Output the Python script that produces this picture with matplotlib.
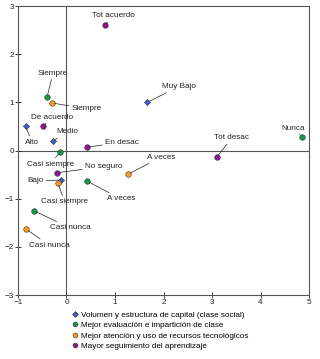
import numpy as np
import matplotlib.pyplot as plt
from matplotlib.lines import Line2D

plt.rcParams['font.family'] = ['Liberation Sans', 'DejaVu Sans']

# series names for the legend
series = ['Volumen y estructura de capital (clase social)',
          'Mejor evaluación e impartición de clase',
          'Mejor atención y uso de recursos tecnológicos',
          'Mayor seguimiento del aprendizaje']

# category points, one list per series
vol_lab = ['Alto', 'Medio', 'Muy Bajo', 'Bajo']
vol_x = [-0.84, -0.28, 1.66, -0.11]
vol_y = [0.51, 0.20, 1.00, -0.61]

eva_lab = ['Siempre', 'Casi siempre', 'A veces', 'Casi nunca', 'Nunca']
eva_x = [-0.40, -0.13, 0.42, -0.67, 4.86]
eva_y = [1.11, -0.03, -0.63, -1.25, 0.28]

ate_lab = ['Siempre', 'Casi siempre', 'A veces', 'Casi nunca']
ate_x = [-0.30, -0.18, 1.27, -0.83]
ate_y = [0.99, -0.67, -0.49, -1.63]

seg_lab = ['Tot acuerdo', 'De acuerdo', 'En desac', 'Tot desac', 'No seguro']
seg_x = [0.79, -0.48, 0.42, 3.10, -0.20]
seg_y = [2.61, 0.51, 0.07, -0.13, -0.46]

# label offsets in pixels (dx, dy)
vol_off = [(6, -16), (15, 9), (32, 16), (-26, -1)]
eva_off = [(6, 24), (-10, -12), (34, -18), (36, -17), (-9, 9)]
ate_off = [(35, -6), (7, -19), (33, 17), (23, -16)]
seg_off = [(9, 9), (9, 9), (35, 5), (15, 19), (47, 6)]

colors = ['#3c5cd0', '#119a4c', '#ff9a1a', '#8e148e']
markers = ['D', 'o', 'o', 'o']
fs = 5.9

fig = plt.figure(figsize=(3.2, 3.59), dpi=100)
ax = fig.add_axes([0.056, 0.178, 0.910, 0.805])

ax.axhline(0, color='#555555', lw=0.8, zorder=1)
ax.axvline(0, color='#555555', lw=0.8, zorder=1)

groups = [(vol_lab, vol_x, vol_y, vol_off), (eva_lab, eva_x, eva_y, eva_off),
          (ate_lab, ate_x, ate_y, ate_off), (seg_lab, seg_x, seg_y, seg_off)]
for (labs, xs, ys, offs), c, m in zip(groups, colors, markers):
    ax.scatter(xs, ys, s=16 if m == 'o' else 10, marker=m, color=c,
               edgecolors='#333333', linewidths=0.4, zorder=3)
    for lab, x, y, off in zip(labs, xs, ys, offs):
        ax.annotate(lab, (x, y), xytext=off, textcoords='offset pixels',
                    ha='center', va='center', fontsize=fs, color='#222222',
                    arrowprops=dict(arrowstyle='-', color='#222222', lw=0.5,
                                    shrinkA=0, shrinkB=2))

ax.set_xlim(-1, 5)
ax.set_ylim(-3, 3)
ax.set_xticks(np.arange(-1, 6))
ax.set_yticks(np.arange(-3, 4))
ax.tick_params(direction='inout', length=4, width=0.6, labelsize=fs,
               pad=1, colors='#222222')
for sp in ax.spines.values():
    sp.set_linestyle((0, (1, 1)))
    sp.set_color('#555555')
    sp.set_linewidth(0.8)

handles = [Line2D([], [], ls='', marker=m, color=c, markeredgecolor='#333333',
                  markeredgewidth=0.4, markersize=3.5 if m == 'o' else 3)
           for c, m in zip(colors, markers)]
fig.legend(handles, series, loc='upper left', bbox_to_anchor=(0.225, 0.133),
           frameon=False, fontsize=fs, handlelength=0.7, handletextpad=0.35,
           labelspacing=0.32, borderpad=0, borderaxespad=0)

fig.savefig('out.png', dpi=100)
